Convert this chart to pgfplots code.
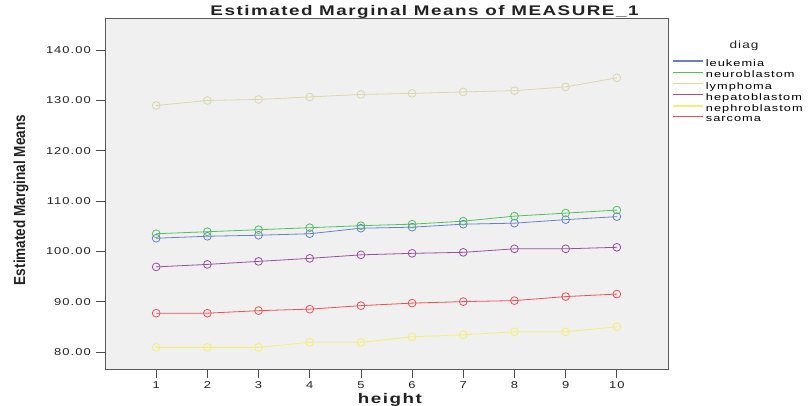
\documentclass[border=0pt]{standalone}
\usepackage{pgfplots}
\pgfplotsset{compat=1.18}
\usepackage{fontspec}
\setmainfont{Liberation Sans}
\newfontfamily\spss[LetterSpace=8]{Liberation Sans}
\newcommand\sx[2][1.3]{\scalebox{#1}[1]{#2}}

\definecolor{bgc}{HTML}{F0F0F0}
\definecolor{leuk}{HTML}{6A7FCC}
\definecolor{neuro}{HTML}{4CC25E}
\definecolor{lymph}{HTML}{DCD6A8}
\definecolor{hepa}{HTML}{9A4E9E}
\definecolor{nephro}{HTML}{F5EF70}
\definecolor{sarc}{HTML}{F05055}
\definecolor{txt}{HTML}{222222}

\begin{document}
\begin{tikzpicture}
\path[use as bounding box] (-105bp,-37bp) rectangle (705bp,369bp);
\begin{axis}[
    at={(0,0)}, anchor=south west,
    scale only axis,
    width=563bp, height=351bp,
    xmin=0, xmax=11,
    ymin=76.6, ymax=146.4,
    xtick={1,...,10},
    xticklabels={\sx{1},\sx{2},\sx{3},\sx{4},\sx{5},\sx{6},\sx{7},\sx{8},\sx{9},\sx{10}},
    ytick={80,90,...,140},
    yticklabels={\sx{80.00},\sx{90.00},\sx{100.00},\sx{110.00},\sx{120.00},\sx{130.00},\sx{140.00}},
    tick align=outside,
    major tick length=9bp,
    xtick pos=bottom, ytick pos=left,
    tick style={color=black!70, line width=0.8pt},
    axis line style={color=black!65, line width=1pt},
    axis background/.style={fill=bgc},
    tick label style={font=\spss\fontsize{10}{12}\selectfont, text=txt},
    yticklabel style={inner xsep=5bp},
    mark options={solid, line width=0.8pt},
    every axis plot/.append style={line width=0.8pt, mark=o, mark size=3.9bp},
    legend cell align=left,
    legend style={draw=none, fill=none, at={(1.008,0.887)}, anchor=north west,
        inner sep=0pt, font=\spss\fontsize{9.5}{10}\selectfont,
        row sep=-1.1bp},
    legend image code/.code={\draw[#1, mark=none, line width=1.2pt] (0bp,3bp) -- (30bp,3bp);},
]
\addplot[color=leuk] coordinates {(1,102.6) (2,103.0) (3,103.2) (4,103.5) (5,104.6) (6,104.8) (7,105.4) (8,105.6) (9,106.3) (10,106.9)};
\addlegendentry{\sx[1.35]{leukemia}}
\addplot[color=neuro] coordinates {(1,103.5) (2,103.9) (3,104.3) (4,104.7) (5,105.1) (6,105.4) (7,106.0) (8,107.0) (9,107.6) (10,108.2)};
\addlegendentry{\sx[1.35]{neuroblastom}}
\addplot[color=lymph] coordinates {(1,129.0) (2,130.0) (3,130.2) (4,130.7) (5,131.2) (6,131.4) (7,131.7) (8,131.95) (9,132.7) (10,134.5)};
\addlegendentry{\sx[1.35]{lymphoma}}
\addplot[color=hepa] coordinates {(1,96.9) (2,97.4) (3,98.0) (4,98.6) (5,99.3) (6,99.6) (7,99.8) (8,100.5) (9,100.5) (10,100.8)};
\addlegendentry{\sx[1.35]{hepatoblastom}}
\addplot[color=nephro] coordinates {(1,80.9) (2,80.9) (3,80.9) (4,81.9) (5,81.9) (6,83.0) (7,83.4) (8,84.0) (9,84.0) (10,85.0)};
\addlegendentry{\sx[1.35]{nephroblastom}}
\addplot[color=sarc] coordinates {(1,87.7) (2,87.7) (3,88.2) (4,88.5) (5,89.2) (6,89.7) (7,90.0) (8,90.2) (9,91.0) (10,91.5)};
\addlegendentry{\sx[1.35]{sarcoma}}
\end{axis}
\node[font=\spss\bfseries\fontsize{14}{16}\selectfont, text=txt] at (319.5bp,356.8bp) {\sx[1.35]{Estimated Marginal Means of MEASURE\_1}};
\node[font=\spss\bfseries\fontsize{14}{16}\selectfont, text=txt] at (285bp,-31bp) {\sx[1.35]{height}};
\node[font=\bfseries\fontsize{16}{18}\selectfont, text=txt, rotate=90] at (-84bp,169bp) {\scalebox{0.85}[1]{Estimated Marginal Means}};
\node[font=\spss\fontsize{10.5}{12}\selectfont, text=txt] at (639bp,323bp) {\sx{diag}};
\end{tikzpicture}
\end{document}
